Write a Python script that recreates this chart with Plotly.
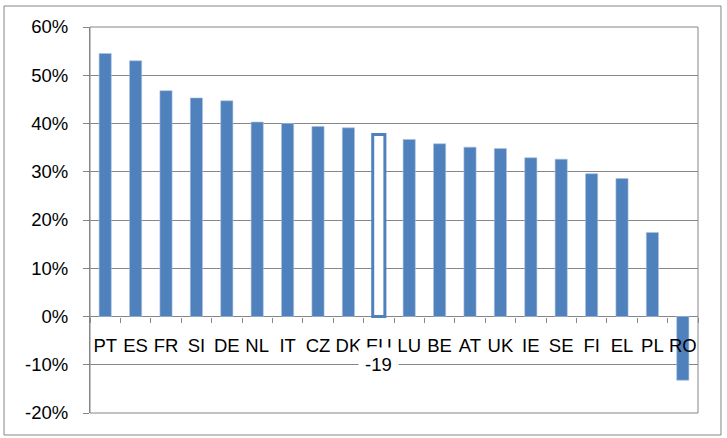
import plotly.graph_objects as go

categories = ["PT", "ES", "FR", "SI", "DE", "NL", "IT", "CZ", "DK", "EU-19",
              "LU", "BE", "AT", "UK", "IE", "SE", "FI", "EL", "PL", "RO"]
tick_labels = ["PT", "ES", "FR", "SI", "DE", "NL", "IT", "CZ", "DK", "EU",
               "LU", "BE", "AT", "UK", "IE", "SE", "FI", "EL", "PL", "RO"]
values = [54.5, 53.0, 46.8, 45.3, 44.7, 40.3, 40.0, 39.4, 39.1, 37.7,
          36.7, 35.8, 35.1, 34.8, 32.9, 32.6, 29.6, 28.6, 17.4, -13.2]
y_ticks = [-20, -10, 0, 10, 20, 30, 40, 50, 60]
y_tick_labels = ["-20%", "-10%", "0%", "10%", "20%", "30%", "40%", "50%", "60%"]
eu_suffix = "-19"

BLUE = "#4F81BD"
GRID = "#868686"
highlight = "EU-19"
NARROW = "Liberation Sans Narrow, Arial Narrow, Liberation Sans, sans-serif"

fill = ["white" if c == highlight else BLUE for c in categories]
line_col = [BLUE if c == highlight else "#A9C1DF" for c in categories]
line_w = [3 if c == highlight else 0.6 for c in categories]

fig = go.Figure(go.Bar(
    x=categories, y=values,
    marker=dict(color=fill, line=dict(color=line_col, width=line_w)),
    hoverinfo="x+y",
))

fig.update_layout(
    width=727, height=438,
    margin=dict(l=90, r=29, t=27, b=25),
    paper_bgcolor="white", plot_bgcolor="white",
    bargap=0.6,
    showlegend=False,
    font=dict(family="Liberation Sans, Arial, sans-serif", color="black"),
)

fig.update_yaxes(
    range=[-20, 60], tickvals=y_ticks, ticktext=y_tick_labels,
    showgrid=True, gridcolor=GRID, gridwidth=1,
    zeroline=True, zerolinecolor=GRID, zerolinewidth=1,
    showline=True, linecolor=GRID, linewidth=1,
    ticks="outside", ticklen=6, tickcolor=GRID,
    tickfont=dict(size=18.5, family="Liberation Sans, Arial, sans-serif", color="black"),
    ticklabelstandoff=11,
    fixedrange=True,
)

fig.update_xaxes(
    type="category",
    tickvals=categories, ticktext=tick_labels,
    anchor="free", position=0.25,
    showline=False, showgrid=False,
    ticks="outside", ticklen=5, tickcolor=GRID, tickson="boundaries",
    tickfont=dict(size=18.5, family=NARROW, color="black"),
    ticklabelstandoff=16,
    tickangle=0,
    fixedrange=True,
)

# plot-area border
fig.add_shape(type="rect", xref="paper", yref="paper", x0=0, x1=1, y0=0, y1=1,
              line=dict(color=GRID, width=1), fillcolor="rgba(0,0,0,0)", layer="above")
# outer chart border
fig.add_shape(type="rect", xref="paper", yref="paper",
              x0=-0.1414, x1=1.0378, y0=-0.057, y1=1.0544,
              line=dict(color=GRID, width=1), fillcolor="rgba(0,0,0,0)")

fig.add_annotation(
    x=highlight, y=-10, xref="x", yref="y", text=eu_suffix, showarrow=False,
    yanchor="middle", bgcolor="white", borderpad=6,
    font=dict(size=18.5, family=NARROW, color="black"),
)

fig.write_html("out.html")
